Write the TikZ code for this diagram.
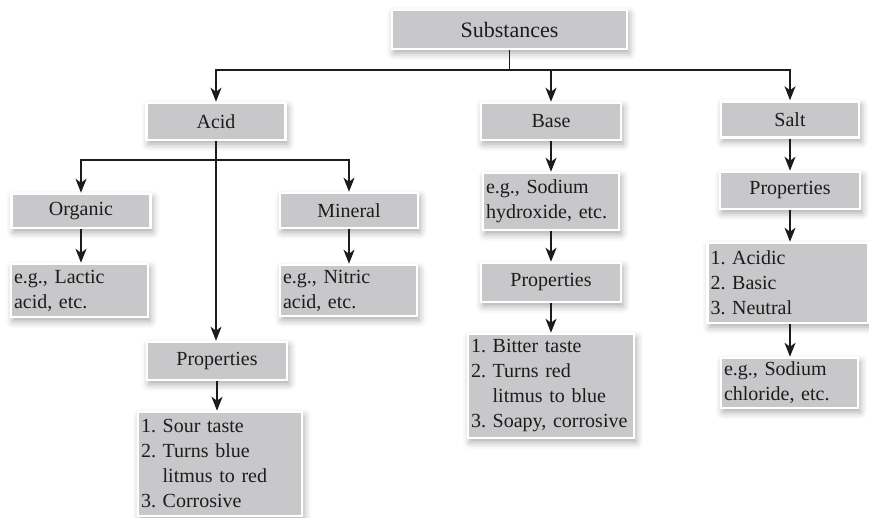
\documentclass[tikz,border=0pt]{standalone}
\usepackage{fontspec}
\setmainfont{Liberation Serif}
\usetikzlibrary{arrows.meta,shadows.blur}
\definecolor{boxgray}{RGB}{200,200,202}
\definecolor{ink}{RGB}{30,27,28}
\begin{document}
\begin{tikzpicture}[x=1pt,y=-1pt,
  box/.style={fill=boxgray, draw=white, line width=2.5pt, text=ink,
    inner xsep=4pt, inner ysep=0pt,
    font=\fontsize{20}{25}\selectfont,
    blur shadow={shadow xshift=2pt, shadow yshift=-4pt,
      shadow blur radius=7pt, shadow opacity=35}},
  sz/.style 2 args={minimum width=#1pt, minimum height=#2pt},
  lst/.style={box, align=left, inner xsep=3pt,
    execute at begin node={\hyphenpenalty=10000 }},
  link/.style={draw=ink, line width=1.5pt},
  arr/.style={link, -{Stealth[length=14pt,width=11pt,inset=4pt]}}]
\useasboundingbox (0,0) rectangle (869,518);

% top level
\node[box, sz={235}{39}, font=\fontsize{22}{26}\selectfont] (subst) at (509.5,29.5) {Substances};
\node[box, sz={139}{37}] (acid) at (216,121.5) {Acid};
\node[box, sz={140}{37}] (base) at (551,121.5) {Base};
\node[box, sz={138}{36}] (salt) at (790,119.5) {Salt};

% acid branch
\node[box, sz={139}{34}] (organic) at (81,211) {Organic};
\node[box, sz={138}{35}] (mineral) at (349,210.5) {Mineral};
\node[lst, sz={137}{53}, text width=131pt] (lactic) at (79.5,290.5)
  {e.g., Lactic\\acid, etc.};
\node[lst, sz={137}{51}, text width=131pt] (nitric) at (348.5,290.5)
  {e.g., Nitric\\acid, etc.};
\node[box, sz={140}{38}] (aprop) at (217,361) {Properties};
\node[lst, sz={164}{104}, text width=158pt] (alist) at (220,464)
  {1.\ Sour taste\\2.\ Turns blue\\\hphantom{2.\ }litmus to red\\3.\ Corrosive};

% base branch
\node[lst, sz={136}{57}, text width=130pt] (bex) at (551,201.5)
  {e.g., Sodium\\hydroxide, etc.};
\node[box, sz={140}{39}] (bprop) at (551,282.5) {Properties};
\node[lst, sz={166}{104}, text width=160pt] (blist) at (551,386)
  {1.\ Bitter taste\\2.\ Turns red\\\hphantom{2.\ }litmus to blue\\3.\ Soapy, corrosive};

% salt branch
\node[box, sz={140}{37}] (sprop) at (790,190.5) {Properties};
\node[lst, sz={161}{80}, text width=155pt] (slist) at (788,283)
  {1.\ Acidic\\2.\ Basic\\3.\ Neutral};
\node[lst, sz={137}{50}, text width=131pt] (sex) at (789.5,383)
  {e.g., Sodium\\chloride, etc.};

% connectors from the top box
\draw[link] (subst.south) -- ++(0,20) coordinate (j0);
\draw[arr] (j0) -| (acid.north);
\draw[arr] (j0) -| (salt.north);
\draw[arr] (base.north |- j0) -- (base.north);

% acid connectors
\draw[link] (acid.south) -- ++(0,19) coordinate (j1);
\draw[arr] (j1) -| (organic.north);
\draw[arr] (j1) -| (mineral.north);
\draw[arr] (j1) -- (j1 |- aprop.north);
\draw[arr] (organic.south) -- (organic.south |- lactic.north);
\draw[arr] (mineral.south) -- (mineral.south |- nitric.north);
\draw[arr] (aprop.south) -- (aprop.south |- alist.north);

% base connectors
\draw[arr] (base.south) -- (bex.north);
\draw[arr] (bex.south) -- (bprop.north);
\draw[arr] (bprop.south) -- (blist.north);

% salt connectors
\draw[arr] (salt.south) -- (sprop.north);
\draw[arr] (sprop.south) -- (sprop.south |- slist.north);
\draw[arr] (sprop.south |- slist.south) -- (sprop.south |- sex.north);
\end{tikzpicture}
\end{document}
